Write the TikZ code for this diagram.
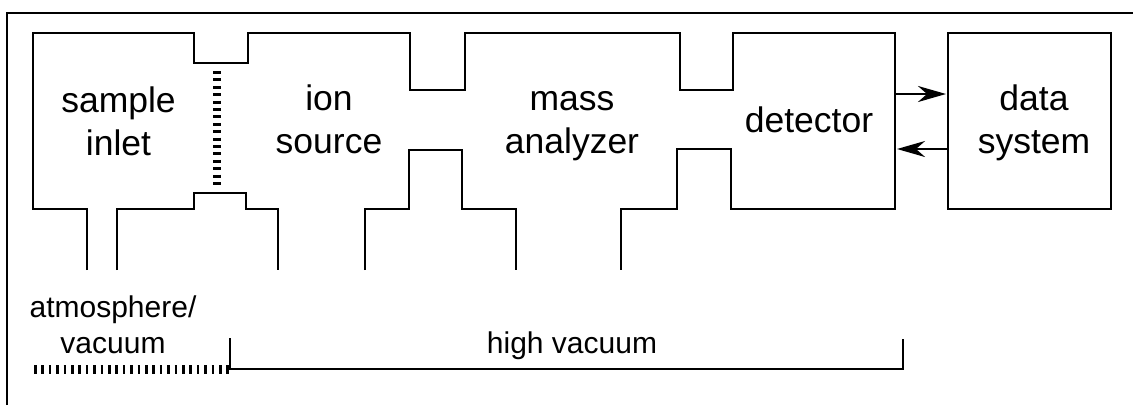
\documentclass[tikz,border=0pt]{standalone}
\usepackage{fontspec}
\setmainfont{Liberation Sans}
\usetikzlibrary{arrows.meta}
\tikzset{
  wall/.style={line width=2.8pt, line join=miter, line cap=butt},
  lbl/.style={font=\fontsize{35.5}{43}\selectfont, align=center, inner sep=0pt, anchor=base},
  small/.style={font=\fontsize{30}{36}\selectfont, align=center, inner sep=0pt, anchor=base},
  sig/.style={line width=2.6pt, -{Stealth[length=28pt,width=16pt,inset=9pt]}},
}
\begin{document}
\begin{tikzpicture}[x=1pt,y=-1pt]
\useasboundingbox (0,0) rectangle (1133,405);
% frame
\draw[wall] (7,405) -- (7,13) -- (1133,13);
% main outline (top part)
\draw[wall] (87,270) -- (87,209) -- (33,209) -- (33,33) -- (194,33) -- (194,63) -- (248,63) -- (248,33)
  -- (410,33) -- (410,90) -- (465,90) -- (465,33) -- (680,33) -- (680,90) -- (733,90) -- (733,33)
  -- (895,33) -- (895,209) -- (731,209) -- (731,149) -- (677,149) -- (677,209) -- (621,209) -- (621,270);
% bottom pieces
\draw[wall] (117,270) -- (117,209) -- (194,209) -- (194,193) -- (246,193) -- (246,209) -- (278,209) -- (278,270);
\draw[wall] (365,270) -- (365,209) -- (409,209) -- (409,150) -- (462,150) -- (462,209) -- (516,209) -- (516,270);
% membrane
\draw[line width=8pt, dash pattern=on 3pt off 4.4pt] (217,71) -- (217,186);
% data system box
\node[draw, wall, minimum width=163pt, minimum height=176pt, inner sep=0pt] (ds) at (1029.5,121) {};
\coordinate (detA) at (895,94);
\coordinate (detB) at (897,149);
\coordinate (dsA) at (946,94);
\coordinate (dsB) at (948,149);
\draw[sig] (detA) -- (dsA);
\draw[sig] (dsB) -- (detB);
% labels
\node[lbl] (si) at (118.5,155) {sample\\inlet};
\node[lbl] (is) at (329,153) {ion\\source};
\node[lbl] (ma) at (572,153) {mass\\analyzer};
\node[lbl] (de) at (809,132) {detector};
\node[lbl] (dt) at (1034,153) {data\\system};
% bottom
\node[small] (av) at (113,353) {atmosphere/\\vacuum};
\node[small] (hv) at (572,353) {high vacuum};
\draw[line width=9pt, dash pattern=on 2.5pt off 4.9pt] (34,369.5) -- (229,369.5);
\coordinate (bl) at (230,338);
\coordinate (br) at (903,339);
\draw[wall] (bl) -- (230,369) -- (903,369) -- (br);
\end{tikzpicture}
\end{document}
